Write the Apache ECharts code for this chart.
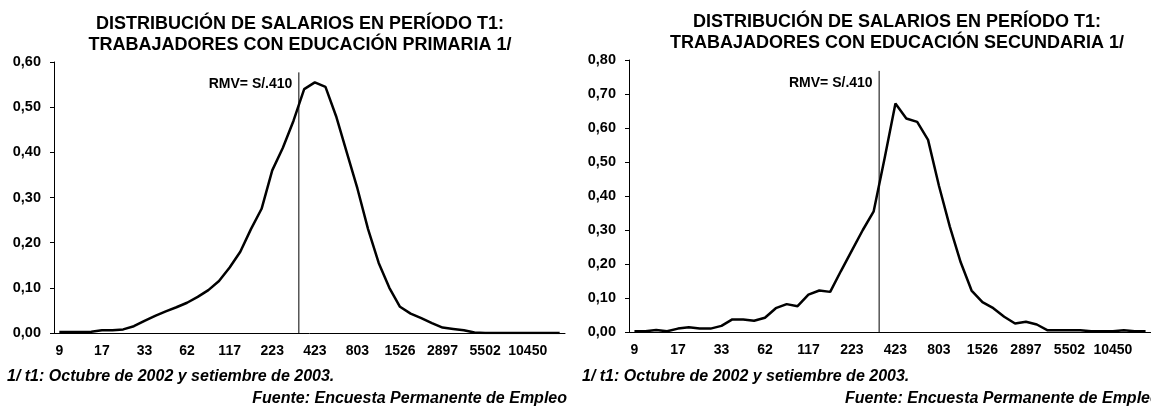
<!DOCTYPE html>
<html>
<head>
<meta charset="utf-8">
<title>Distribución de salarios</title>
<script src="https://cdn.jsdelivr.net/npm/echarts@6/dist/echarts.min.js"></script>
<style>
  html, body { margin: 0; padding: 0; background: #fff; }
  #main { width: 1151px; height: 410px; }
</style>
</head>
<body>
<div id="main"></div>
<script>
// salary categories (S/.), only every 4th one is labelled on the axis
var categories = ['9', '11', '12', '15', '17', '20', '23', '28', '33', '38', '45', '53',
  '62', '73', '85', '100', '117', '138', '162', '190', '223', '262', '307', '361',
  '423', '497', '583', '684', '803', '943', '1107', '1300', '1526', '1791', '2103', '2469',
  '2897', '3401', '3993', '4688', '5502', '6459', '7583', '8902', '10450', '12268', '14402', '16908'];

var primaria = [0.002, 0.002, 0.002, 0.003, 0.006, 0.006, 0.008, 0.015, 0.027, 0.038, 0.048, 0.057,
  0.067, 0.080, 0.095, 0.115, 0.145, 0.180, 0.230, 0.275, 0.360, 0.410, 0.470, 0.540,
  0.555, 0.545, 0.480, 0.400, 0.320, 0.230, 0.155, 0.100, 0.058, 0.043, 0.033, 0.022,
  0.012, 0.009, 0.006, 0.001, 0.000, 0.000, 0.000, 0.000, 0.000, 0.000, 0.000, 0.000];

var secundaria = [0.002, 0.002, 0.006, 0.002, 0.010, 0.014, 0.010, 0.010, 0.018, 0.037, 0.037, 0.033,
  0.042, 0.070, 0.082, 0.076, 0.110, 0.122, 0.118, 0.180, 0.240, 0.300, 0.355, 0.510,
  0.672, 0.628, 0.618, 0.565, 0.430, 0.310, 0.205, 0.122, 0.088, 0.070, 0.045, 0.025,
  0.030, 0.022, 0.005, 0.005, 0.005, 0.005, 0.002, 0.002, 0.002, 0.005, 0.002, 0.002];

// minimum wage marker: sits on the boundary between two categories
var rmvBoundary = 23;
var rmvTop = [0.577, 0.768];
var rmvText = 'RMV= S/.410';

var titles = [
  'DISTRIBUCIÓN DE SALARIOS EN PERÍODO T1:\nTRABAJADORES CON EDUCACIÓN PRIMARIA 1/',
  'DISTRIBUCIÓN DE SALARIOS EN PERÍODO T1:\nTRABAJADORES CON EDUCACIÓN SECUNDARIA 1/'
];
var nota = '1/ t1: Octubre de 2002 y setiembre de 2003.';
var fuente = 'Fuente: Encuesta Permanente de Empleo';

var font = '"Liberation Sans", Arial, sans-serif';
var chart = echarts.init(document.getElementById('main'), null, { renderer: 'canvas' });

function catAxis(i) {
  return {
    type: 'category', gridIndex: i, data: categories, boundaryGap: true,
    axisLine: { lineStyle: { color: '#000', width: 1 } },
    axisTick: { interval: 0, length: 4, lineStyle: { color: '#000' } },
    axisLabel: { interval: 3, color: '#000', fontFamily: font, fontWeight: 'bold', fontSize: 14, margin: 11 }
  };
}
function hiddenAxis(i) {
  return { type: 'value', gridIndex: i, min: 0, max: categories.length, show: false };
}
function valAxis(i, max) {
  return {
    type: 'value', gridIndex: i, min: 0, max: max, interval: 0.1,
    splitLine: { show: false },
    axisLine: { show: true, lineStyle: { color: '#000', width: 1 } },
    axisTick: { show: true, length: 4, lineStyle: { color: '#000' } },
    axisLabel: {
      color: '#000', fontFamily: font, fontWeight: 'bold', fontSize: 14.5, margin: 13,
      formatter: function (v) { return v.toFixed(2).replace('.', ','); }
    }
  };
}
function curve(data, i) {
  return {
    type: 'line', xAxisIndex: i, yAxisIndex: i, data: data,
    symbol: 'none', lineStyle: { color: '#000', width: 2.5 }, z: 3
  };
}
function rmvLine(i) {
  return {
    type: 'line', xAxisIndex: i + 2, yAxisIndex: i,
    symbol: 'circle', symbolSize: 1, showSymbol: true,
    itemStyle: { color: 'rgba(0,0,0,0)', borderWidth: 0 },
    lineStyle: { color: '#000', width: 1 }, z: 2,
    label: {
      show: true, position: 'left', distance: 6, offset: [0, 12],
      color: '#000', fontFamily: font, fontWeight: 'bold', fontSize: 14,
      formatter: function (p) { return p.dataIndex === 1 ? rmvText : ''; }
    },
    data: [[rmvBoundary, 0], [rmvBoundary, rmvTop[i]]]
  };
}

var noteStyle = { fill: '#000', font: 'italic bold 16px ' + font };

chart.setOption({
  backgroundColor: '#fff',
  animation: false,
  title: [
    { text: titles[0], left: 295, top: 9, textAlign: 'center',
      textStyle: { color: '#000', fontFamily: font, fontWeight: 'bold', fontSize: 18, lineHeight: 21 } },
    { text: titles[1], left: 892, top: 7, textAlign: 'center',
      textStyle: { color: '#000', fontFamily: font, fontWeight: 'bold', fontSize: 18, lineHeight: 21 } }
  ],
  grid: [
    { left: 54, width: 511, top: 62, height: 271 },
    { left: 629, width: 529, top: 60, height: 272 }
  ],
  xAxis: [catAxis(0), catAxis(1), hiddenAxis(0), hiddenAxis(1)],
  yAxis: [valAxis(0, 0.6), valAxis(1, 0.8)],
  series: [curve(primaria, 0), curve(secundaria, 1), rmvLine(0), rmvLine(1)],
  graphic: [
    { type: 'text', left: 7, top: 369, style: Object.assign({ text: nota }, noteStyle) },
    { type: 'text', right: 584, top: 391, style: Object.assign({ text: fuente }, noteStyle) },
    { type: 'text', left: 582, top: 369, style: Object.assign({ text: nota }, noteStyle) },
    { type: 'text', left: 845, top: 391, style: Object.assign({ text: fuente }, noteStyle) }
  ]
});
</script>
</body>
</html>
